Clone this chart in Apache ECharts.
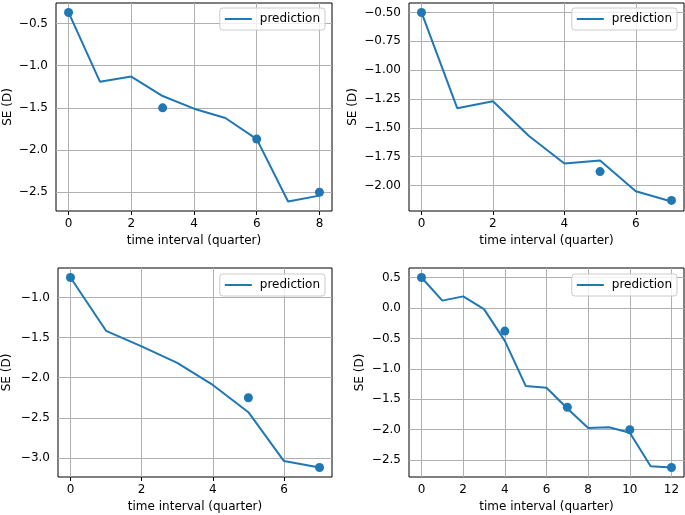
<!DOCTYPE html>
<html>
<head>
<meta charset="utf-8">
<script src="https://cdn.jsdelivr.net/npm/echarts@6/dist/echarts.min.js"></script>
<style>html,body{margin:0;padding:0;background:#fff}#c{width:685px;height:515px}</style>
</head>
<body>
<div id="c"></div>
<script>
// ---- Data ----
const p1X = [0, 1, 2, 3, 4, 5, 6, 7, 8];
const p1Pred = [-0.37, -1.19, -1.13, -1.36, -1.51, -1.62, -1.87, -2.61, -2.54];
const p1ObsX = [0, 3, 6, 8];
const p1Obs = [-0.37, -1.5, -1.87, -2.5];

const p2X = [0, 1, 2, 3, 4, 5, 6, 7];
const p2Pred = [-0.5, -1.33, -1.27, -1.57, -1.81, -1.785, -2.05, -2.14];
const p2ObsX = [0, 5, 7];
const p2Obs = [-0.5, -1.88, -2.13];

const p3X = [0, 1, 2, 3, 4, 5, 6, 7];
const p3Pred = [-0.75, -1.415, -1.61, -1.815, -2.09, -2.43, -3.04, -3.12];
const p3ObsX = [0, 5, 7];
const p3Obs = [-0.75, -2.25, -3.12];

const p4X = [0, 1, 2, 3, 4, 5, 6, 7, 8, 9, 10, 11, 12];
const p4Pred = [0.5, 0.12, 0.19, -0.02, -0.54, -1.28, -1.31, -1.65, -1.97, -1.96, -2.05, -2.6, -2.62];
const p4ObsX = [0, 4, 7, 10, 12];
const p4Obs = [0.5, -0.38, -1.63, -2.0, -2.62];

const p1XTicks = [0, 2, 4, 6, 8];
const p2XTicks = [0, 2, 4, 6];
const p3XTicks = [0, 2, 4, 6];
const p4XTicks = [0, 2, 4, 6, 8, 10, 12];

const p1YTicks = [-2.5, -2.0, -1.5, -1.0, -0.5];
const p2YTicks = [-2.0, -1.75, -1.5, -1.25, -1.0, -0.75, -0.5];
const p3YTicks = [-3.0, -2.5, -2.0, -1.5, -1.0];
const p4YTicks = [-2.5, -2.0, -1.5, -1.0, -0.5, 0.0, 0.5];

const yDecimals = [1, 2, 1, 1];
const xLabel = 'time interval (quarter)';
const yLabel = 'SE (D)';
const legendName = 'prediction';

// ---- Layout / style ----
const FONT = 'DejaVu Sans';
const FS = 12;
const BLUE = '#1f77b4';
const grids = [
  {left: 56, top: 3, width: 276, height: 208},
  {left: 409, top: 3, width: 275, height: 208},
  {left: 56, top: 268, width: 276, height: 209},
  {left: 409, top: 268, width: 275, height: 209}
];
const yNameGaps = [42, 50, 45, 43];
const legendPos = [
  {right: 360, top: 8}, {right: 8, top: 8},
  {right: 360, top: 274}, {right: 8, top: 274}
];

const panels = [
  {x: p1X, pred: p1Pred, ox: p1ObsX, oy: p1Obs, xt: p1XTicks, yt: p1YTicks},
  {x: p2X, pred: p2Pred, ox: p2ObsX, oy: p2Obs, xt: p2XTicks, yt: p2YTicks},
  {x: p3X, pred: p3Pred, ox: p3ObsX, oy: p3Obs, xt: p3XTicks, yt: p3YTicks},
  {x: p4X, pred: p4Pred, ox: p4ObsX, oy: p4Obs, xt: p4XTicks, yt: p4YTicks}
];

function fmt(v, d) {
  const s = Math.abs(v).toFixed(d);
  return (v < 0 && Number(s) !== 0 ? '\u2212' : '') + s;
}
function lims(arrs) {
  const all = [].concat(...arrs);
  const lo = Math.min(...all), hi = Math.max(...all);
  const m = (hi - lo) * 0.05;
  return [lo - m, hi + m];
}

const option = {
  animation: false,
  backgroundColor: '#fff',
  textStyle: {fontFamily: FONT},
  grid: [], xAxis: [], yAxis: [], series: [], legend: []
};

panels.forEach((p, i) => {
  const xl = lims([p.x, p.ox]);
  const yl = lims([p.pred, p.oy]);
  option.grid.push(Object.assign({show: true, borderColor: '#000', borderWidth: 1, backgroundColor: 'transparent'}, grids[i]));
  option.xAxis.push({
    type: 'value', gridIndex: i, min: xl[0], max: xl[1],
    name: xLabel, nameLocation: 'middle', nameGap: 24,
    nameTextStyle: {fontFamily: FONT, fontSize: FS, color: '#000'},
    axisLine: {show: false},
    axisTick: {show: true, inside: false, length: 4, customValues: p.xt, lineStyle: {color: '#000', width: 1}},
    axisLabel: {customValues: p.xt, margin: 7, fontFamily: FONT, fontSize: FS, color: '#000', formatter: v => fmt(v, 0)},
    splitLine: {show: false}
  });
  option.yAxis.push({
    type: 'value', gridIndex: i, min: yl[0], max: yl[1],
    name: yLabel, nameLocation: 'middle', nameGap: yNameGaps[i],
    nameTextStyle: {fontFamily: FONT, fontSize: FS, color: '#000'},
    axisLine: {show: false},
    axisTick: {show: true, inside: false, length: 4, customValues: p.yt, lineStyle: {color: '#000', width: 1}},
    axisLabel: {customValues: p.yt, margin: 8, fontFamily: FONT, fontSize: FS, color: '#000', formatter: v => fmt(v, yDecimals[i])},
    splitLine: {show: false}
  });
  option.series.push({
    type: 'line', name: legendName, xAxisIndex: i, yAxisIndex: i,
    data: p.x.map((x, k) => [x, p.pred[k]]),
    showSymbol: false, symbol: 'none', color: BLUE,
    lineStyle: {color: BLUE, width: 2}, z: 3,
    markLine: {
      silent: true, symbol: ['none', 'none'], label: {show: false}, z: 1,
      lineStyle: {color: '#b0b0b0', width: 1, type: 'solid'},
      emphasis: {disabled: true},
      data: p.xt.map(v => ({xAxis: v})).concat(p.yt.map(v => ({yAxis: v})))
    }
  });
  option.series.push({
    type: 'scatter', name: 'obs' + i, xAxisIndex: i, yAxisIndex: i,
    data: p.ox.map((x, k) => [x, p.oy[k]]),
    symbolSize: 9, itemStyle: {color: BLUE, opacity: 1}, z: 4
  });
  option.legend.push(Object.assign({
    data: [{name: legendName, icon: 'rect'}],
    orient: 'horizontal', itemWidth: 27, itemHeight: 2,
    padding: [5, 5, 5, 5],
    backgroundColor: 'rgba(255,255,255,0.8)',
    borderColor: '#cccccc', borderWidth: 1, borderRadius: 3,
    textStyle: {fontFamily: FONT, fontSize: FS, color: '#000', padding: [0, 0, 0, 3]},
    selectedMode: false
  }, legendPos[i]));
});

const chart = echarts.init(document.getElementById('c'), null, {renderer: 'canvas'});
chart.setOption(option);
</script>
</body>
</html>
